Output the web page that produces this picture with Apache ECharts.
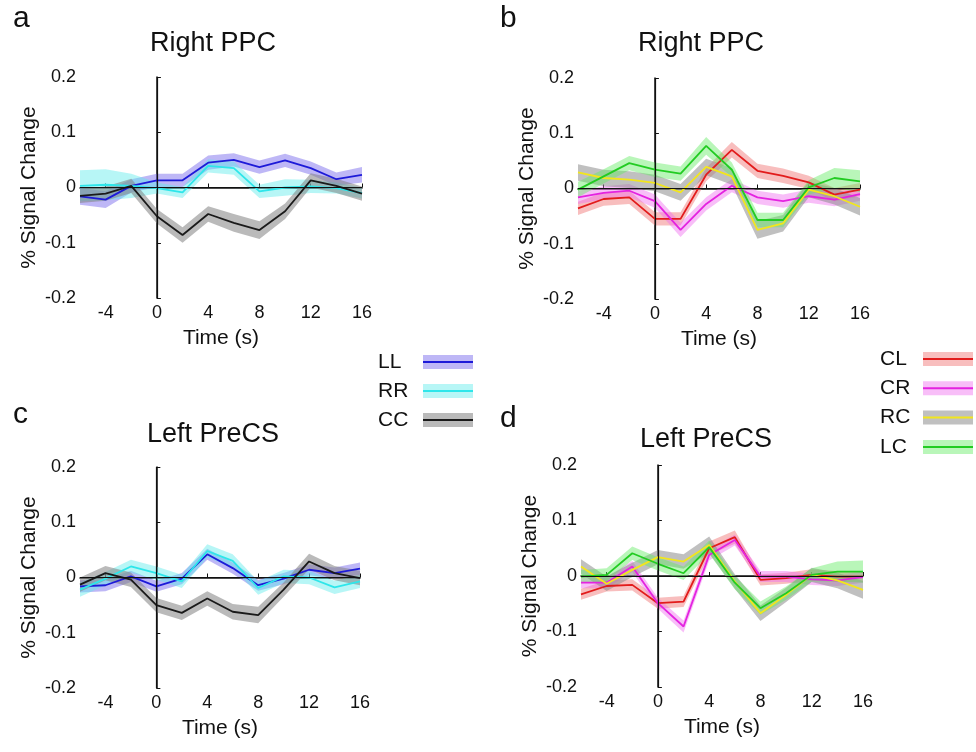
<!DOCTYPE html>
<html>
<head>
<meta charset="utf-8">
<script src="https://cdn.jsdelivr.net/npm/echarts@6/dist/echarts.min.js"></script>
<style>
  html, body { margin: 0; padding: 0; background: #fff; }
  #main { width: 976px; height: 752px; }
</style>
</head>
<body>
<div id="main"></div>
<script>
// time points (s) and tick labels
var times = [-6, -4, -2, 0, 2, 4, 6, 8, 10, 12, 14, 16];
var xTicks = [-4, 0, 4, 8, 12, 16];

// panel a - Right PPC, same-side conditions
var aLL = [-0.016, -0.022, 0.003, 0.013, 0.013, 0.045, 0.050, 0.037, 0.049, 0.035, 0.015, 0.023];
var aLLse = [0.015, 0.015, 0.012, 0.012, 0.012, 0.013, 0.012, 0.012, 0.012, 0.012, 0.012, 0.014];
var aRR = [0.003, 0.005, 0.003, -0.001, -0.009, 0.039, 0.035, -0.007, 0.000, 0.002, -0.001, -0.010];
var aRRse = [0.028, 0.028, 0.022, 0.010, 0.010, 0.012, 0.012, 0.012, 0.015, 0.012, 0.010, 0.010];
var aCC = [-0.015, -0.011, 0.003, -0.052, -0.086, -0.048, -0.064, -0.077, -0.043, 0.013, 0.003, -0.011];
var aCCse = [0.013, 0.013, 0.013, 0.013, 0.014, 0.014, 0.016, 0.016, 0.014, 0.013, 0.013, 0.013];

// panel b - Right PPC, switch conditions
var bCL = [-0.036, -0.019, -0.016, -0.055, -0.055, 0.025, 0.070, 0.032, 0.023, 0.011, -0.011, -0.002];
var bCLse = [0.012, 0.012, 0.012, 0.012, 0.012, 0.012, 0.014, 0.013, 0.013, 0.012, 0.012, 0.012];
var bCR = [-0.016, -0.008, -0.004, -0.023, -0.075, -0.028, 0.005, -0.016, -0.023, -0.014, -0.020, -0.010];
var bCRse = [0.012, 0.012, 0.012, 0.012, 0.013, 0.012, 0.012, 0.012, 0.012, 0.012, 0.012, 0.012];
var bRC = [0.029, 0.019, 0.016, 0.010, -0.007, 0.039, 0.022, -0.075, -0.063, -0.002, -0.014, -0.033];
var bRCse = [0.015, 0.015, 0.015, 0.015, 0.015, 0.015, 0.015, 0.016, 0.015, 0.014, 0.015, 0.016];
var bLC = [-0.002, 0.022, 0.046, 0.034, 0.027, 0.077, 0.034, -0.057, -0.057, 0.002, 0.019, 0.013];
var bLCse = [0.014, 0.013, 0.013, 0.013, 0.013, 0.016, 0.013, 0.013, 0.013, 0.013, 0.018, 0.020];

// panel c - Left PreCS, same-side conditions
var cLL = [-0.016, -0.014, 0.002, -0.016, -0.002, 0.042, 0.017, -0.014, -0.002, 0.014, 0.008, 0.016];
var cLLse = [0.011, 0.011, 0.010, 0.010, 0.010, 0.010, 0.010, 0.010, 0.010, 0.010, 0.010, 0.011];
var cRR = [-0.022, -0.002, 0.020, 0.008, -0.007, 0.048, 0.030, -0.019, 0.002, 0.000, -0.018, -0.007];
var cRRse = [0.013, 0.012, 0.012, 0.012, 0.012, 0.012, 0.012, 0.012, 0.012, 0.012, 0.012, 0.012];
var cCC = [-0.013, 0.008, -0.004, -0.050, -0.064, -0.038, -0.062, -0.068, -0.022, 0.029, 0.008, -0.001];
var cCCse = [0.013, 0.013, 0.013, 0.013, 0.013, 0.013, 0.014, 0.015, 0.013, 0.014, 0.013, 0.013];

// panel d - Left PreCS, switch conditions
var dCL = [-0.033, -0.018, -0.016, -0.049, -0.046, 0.050, 0.070, -0.007, -0.004, 0.002, -0.001, -0.001];
var dCLse = [0.010, 0.010, 0.010, 0.010, 0.010, 0.012, 0.012, 0.010, 0.010, 0.010, 0.010, 0.010];
var dCR = [-0.012, -0.012, 0.017, -0.049, -0.091, 0.038, 0.065, -0.001, -0.001, -0.006, -0.008, -0.002];
var dCRse = [0.010, 0.010, 0.010, 0.010, 0.011, 0.010, 0.010, 0.010, 0.010, 0.010, 0.010, 0.010];
var dRC = [0.017, -0.014, 0.011, 0.034, 0.026, 0.056, -0.010, -0.067, -0.034, 0.002, -0.008, -0.025];
var dRCse = [0.013, 0.013, 0.013, 0.013, 0.013, 0.015, 0.013, 0.014, 0.013, 0.013, 0.014, 0.016];
var dLC = [-0.001, 0.002, 0.041, 0.022, 0.005, 0.052, -0.012, -0.058, -0.031, 0.002, 0.008, 0.008];
var dLCse = [0.012, 0.012, 0.012, 0.012, 0.012, 0.012, 0.012, 0.012, 0.012, 0.012, 0.018, 0.020];

var legendLeft = ['LL', 'RR', 'CC'];
var legendRight = ['CL', 'CR', 'RC', 'LC'];
var panelTitles = ['Right PPC', 'Right PPC', 'Left PreCS', 'Left PreCS'];
var panelLetters = ['a', 'b', 'c', 'd'];

var colors = {
    LL: { line: '#1d1ad8', band: 'rgba(110, 95, 235, 0.45)' },
    RR: { line: '#2ee6ea', band: 'rgba(95, 235, 235, 0.45)' },
    CC: { line: '#1a1a1a', band: 'rgba(130, 130, 130, 0.55)' },
    CL: { line: '#e21c1c', band: 'rgba(240, 110, 110, 0.45)' },
    CR: { line: '#e423e0', band: 'rgba(240, 110, 240, 0.45)' },
    RC: { line: '#f2e61c', band: 'rgba(140, 140, 140, 0.55)' },
    LC: { line: '#22cc22', band: 'rgba(100, 235, 100, 0.45)' }
};

var font = "'Liberation Sans', Arial, sans-serif";

var grids = [
    { left: 80, top: 77, width: 282, height: 221 },
    { left: 578, top: 78, width: 282, height: 221 },
    { left: 80, top: 467, width: 280, height: 221 },
    { left: 581, top: 465, width: 282, height: 222 }
];

var chart = echarts.init(document.getElementById('main'));

function makeX(i) {
    return {
        gridIndex: i, type: 'value', min: -6, max: 16, interval: 2,
        name: 'Time (s)', nameLocation: 'middle', nameGap: 30,
        nameTextStyle: { fontSize: 21, color: '#111', fontFamily: font },
        axisLine: { lineStyle: { color: '#111', width: 1.5 } },
        axisTick: { inside: true, length: 4, customValues: xTicks, lineStyle: { color: '#111' } },
        axisLabel: { customValues: xTicks, fontSize: 18, color: '#111', margin: 6, fontFamily: font },
        splitLine: { show: false }
    };
}

function makeY(i) {
    return {
        gridIndex: i, type: 'value', min: -0.2, max: 0.2, interval: 0.1,
        name: '% Signal Change', nameLocation: 'middle', nameGap: 40, nameRotate: 90,
        nameTextStyle: { fontSize: 21, color: '#111', fontFamily: font },
        axisLine: { show: true, lineStyle: { color: '#111', width: 1.5 } },
        axisTick: { show: true, inside: true, length: 4, lineStyle: { color: '#111' } },
        axisLabel: {
            fontSize: 18, color: '#111', margin: 4, fontFamily: font,
            formatter: function (v) { return Math.abs(v) < 1e-9 ? '0' : v.toFixed(1); }
        },
        splitLine: { show: false }
    };
}

var series = [];

// shaded error band as one polygon, positioned through the axis scales
function addBand(g, name, mean, se) {
    var lo = mean.map(function (m, i) { return m - se[i]; });
    var hi = mean.map(function (m, i) { return m + se[i]; });
    var fill = colors[name].band;
    series.push({
        type: 'custom', xAxisIndex: g, yAxisIndex: g, silent: true, z: 1,
        data: times.map(function (t, i) { return [t, lo[i], hi[i]]; }),
        encode: { x: 0, y: [1, 2] },
        renderItem: function (params, api) {
            if (params.dataIndex !== 0) return null;
            var pts = [];
            for (var i = 0; i < times.length; i++) pts.push(api.coord([times[i], hi[i]]));
            for (var j = times.length - 1; j >= 0; j--) pts.push(api.coord([times[j], lo[j]]));
            return { type: 'polygon', shape: { points: pts }, style: { fill: fill } };
        }
    });
}

function addLine(g, name, mean) {
    series.push({
        type: 'line', xAxisIndex: g, yAxisIndex: g, name: name, symbol: 'none', z: 4,
        lineStyle: { color: colors[name].line, width: 1.8 },
        data: times.map(function (t, i) { return [t, mean[i]]; })
    });
}

function addRefLines(g) {
    series.push({
        type: 'line', xAxisIndex: g, yAxisIndex: g, data: [], z: 3,
        markLine: {
            silent: true, symbol: ['none', 'none'], label: { show: false },
            lineStyle: { color: '#111', width: 1.2, type: 'solid' },
            data: [{ yAxis: 0 }, { xAxis: 0 }]
        }
    });
}

function addPanel(g, names, means, ses) {
    names.forEach(function (n, k) { addBand(g, n, means[k], ses[k]); });
    addRefLines(g);
    names.forEach(function (n, k) { addLine(g, n, means[k]); });
}

addPanel(0, legendLeft, [aLL, aRR, aCC], [aLLse, aRRse, aCCse]);
addPanel(1, legendRight, [bCL, bCR, bRC, bLC], [bCLse, bCRse, bRCse, bLCse]);
addPanel(2, legendLeft, [cLL, cRR, cCC], [cLLse, cRRse, cCCse]);
addPanel(3, legendRight, [dCL, dCR, dRC, dLC], [dCLse, dCRse, dRCse, dLCse]);

// titles and panel letters
var titlePos = [[150, 30], [638, 30], [147, 421], [640, 426]];
var letterPos = [[13, 4], [500, 4], [13, 400], [500, 404]];
var titles = [];
panelTitles.forEach(function (t, i) {
    titles.push({ text: t, left: titlePos[i][0], top: titlePos[i][1], padding: 0,
        textStyle: { fontSize: 27, fontWeight: 'normal', color: '#111', fontFamily: font } });
    titles.push({ text: panelLetters[i], left: letterPos[i][0], top: letterPos[i][1], padding: 0,
        textStyle: { fontSize: 30, fontWeight: 'normal', color: '#111', fontFamily: font } });
});

// hand drawn legends: band swatch with centre line
var graphics = [];
function addLegend(names, textX, swX, y0, step) {
    names.forEach(function (n, i) {
        var cy = y0 + i * step;
        graphics.push({ type: 'rect', shape: { x: swX, y: cy - 7, width: 50, height: 14 },
            style: { fill: colors[n].band } });
        graphics.push({ type: 'line', shape: { x1: swX, y1: cy, x2: swX + 50, y2: cy },
            style: { stroke: colors[n].line, lineWidth: 2 } });
        graphics.push({ type: 'text', x: textX, y: cy,
            style: { text: n, fontSize: 21, fill: '#111', fontFamily: font, verticalAlign: 'middle' } });
    });
}
addLegend(legendLeft, 378, 423, 362, 29);
addLegend(legendRight, 880, 923, 359, 29.3);

chart.setOption({
    animation: false,
    backgroundColor: '#fff',
    title: titles,
    grid: grids,
    xAxis: [0, 1, 2, 3].map(makeX),
    yAxis: [0, 1, 2, 3].map(makeY),
    series: series,
    graphic: graphics
});
</script>
</body>
</html>
